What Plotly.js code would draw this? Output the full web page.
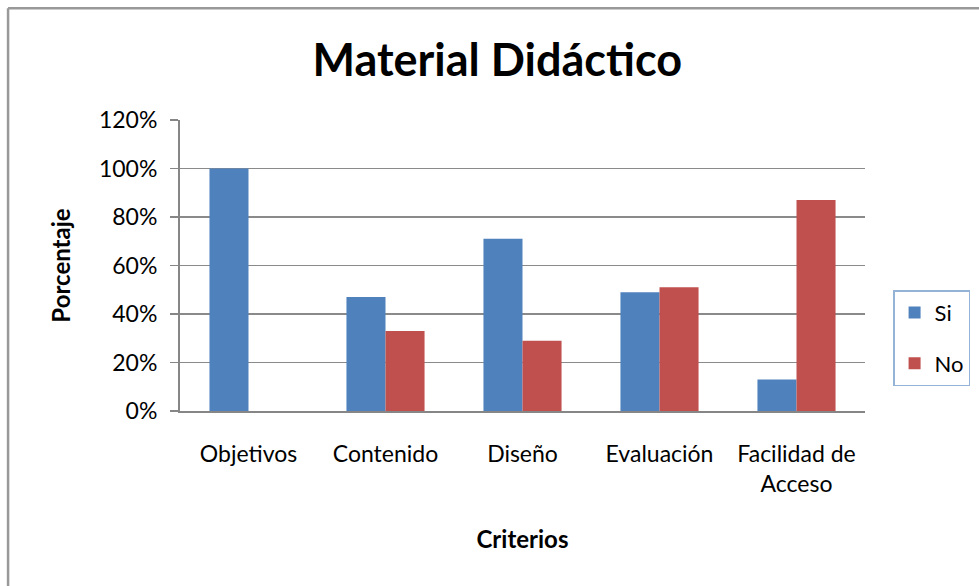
<!DOCTYPE html>
<html>
<head>
<meta charset="utf-8">
<script src="https://cdn.plot.ly/plotly-3.0.1.min.js"></script>
<style>
html,body{margin:0;padding:0;background:#fff;}
#chart{width:979px;height:586px;}
</style>
</head>
<body>
<div id="chart"></div>
<script>
const categories = ["Objetivos", "Contenido", "Diseño", "Evaluación", "Facilidad de<br>Acceso"];
const siValues = [1.00, 0.47, 0.71, 0.49, 0.13];
const noValues = [0.00, 0.33, 0.29, 0.51, 0.87];
const yTickVals = [0, 0.2, 0.4, 0.6, 0.8, 1.0, 1.2];
const yTickText = ["0%", "20%", "40%", "60%", "80%", "100%", "120%"];

const FONT = "Lato, 'Open Sans', sans-serif";

const traces = [
  {type: "bar", name: "Si", x: categories, y: siValues, legendgroup: "a",
   marker: {color: "#4f81bd", line: {width: 0}}},
  {type: "bar", name: "No", x: categories, y: noValues, legendgroup: "b",
   marker: {color: "#c0504d", line: {width: 0}}}
];

const layout = {
  width: 979, height: 586,
  margin: {l: 180, r: 114, t: 120, b: 175, autoexpand: false},
  paper_bgcolor: "#fff", plot_bgcolor: "#fff",
  font: {family: FONT, size: 22, color: "#000"},
  title: {text: "<b>Material Didáctico</b>", x: 0.508, xanchor: "center", y: 0.898, yanchor: "middle",
          font: {family: FONT, size: 45, color: "#000"}},
  barmode: "group", bargap: 0.43, bargroupgap: 0,
  xaxis: {
    showline: true, linecolor: "#868686", linewidth: 2,
    ticks: "", tickfont: {size: 23, family: FONT}, ticklabelstandoff: 21,
    title: {text: "<b>Criterios</b>", font: {size: 24, family: FONT}, standoff: 36},
    fixedrange: true
  },
  yaxis: {
    range: [0, 1.2], tickvals: yTickVals, ticktext: yTickText,
    showline: true, linecolor: "#868686", linewidth: 2,
    ticks: "outside", ticklen: 8, tickcolor: "#868686", tickwidth: 1.5,
    showgrid: true, gridcolor: "#8a8a8a", gridwidth: 1.5,
    zeroline: false, tickfont: {size: 23, family: FONT}, ticklabelstandoff: 8,
    title: {text: "<b>Porcentaje</b>", font: {size: 24, family: FONT}, standoff: 22},
    fixedrange: true
  },
  legend: {
    x: 1.041, xanchor: "left", y: 0.25, yanchor: "middle",
    bordercolor: "#95b3d7", borderwidth: 1.5, bgcolor: "#fff",
    font: {size: 22, family: FONT}, traceorder: "grouped", tracegroupgap: 19,
    itemwidth: 30
  },
  shapes: [
    {type: "line", xref: "paper", yref: "paper", x0: -0.251, x1: 1.2, y0: 1.384, y1: 1.384,
     line: {color: "#999", width: 2.5}},
    {type: "line", xref: "paper", yref: "paper", x0: -0.251, x1: -0.251, y0: 1.384, y1: -0.62,
     line: {color: "#999", width: 2.5}}
  ]
};

Plotly.newPlot("chart", traces, layout, {displayModeBar: false, staticPlot: true});
</script>
</body>
</html>
